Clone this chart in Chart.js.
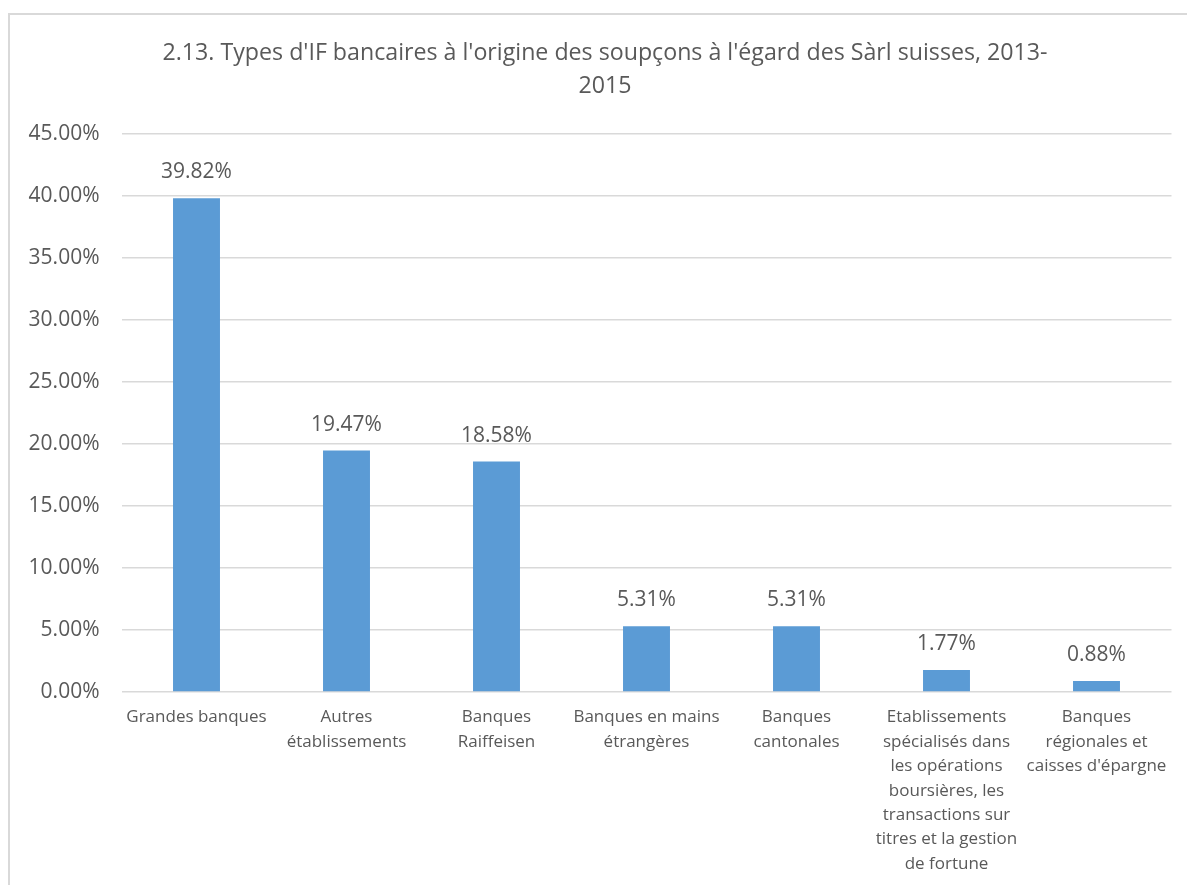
<!DOCTYPE html>
<html>
<head>
<meta charset="utf-8">
<script src="https://cdn.jsdelivr.net/npm/chart.js@4"></script>
<style>
  html, body { margin: 0; padding: 0; background: #fff; }
  #wrap { position: relative; width: 1187px; height: 885px; overflow: hidden; }
  #frame { position: absolute; left: 8px; top: 13px; right: -4px; bottom: -4px;
           border-left: 2px solid #d9d9d9; border-top: 2px solid #d9d9d9; }
  canvas { position: absolute; left: 0; top: 0; }
</style>
</head>
<body>
<div id="wrap">
  <div id="frame"></div>
  <canvas id="grafico" width="1210" height="885"></canvas>
</div>
<script>
// Données du graphique
const titleLines = ["2.13. Types d'IF bancaires à l'origine des soupçons à l'égard des Sàrl suisses, 2013-", "2015"];

const categories = [
    ['Grandes banques'],
    ['Autres', 'établissements'],
    ['Banques', 'Raiffeisen'],
    ['Banques en mains', 'étrangères'],
    ['Banques', 'cantonales'],
    ['Etablissements', 'spécialisés dans', 'les opérations', 'boursières, les', 'transactions sur', 'titres et la gestion', 'de fortune'],
    ['Banques', 'régionales et', "caisses d'épargne"]
];

const shares = [39.82, 19.47, 18.58, 5.31, 5.31, 1.77, 0.88];

const yMax = 45;
const yStep = 5;

const textColor = '#595959';
const gridColor = '#d9d9d9';
const barColor = '#5b9bd5';
const fontFamily = '"Open Sans", "DejaVu Sans", sans-serif';

const formatPct = (v) => v.toFixed(2) + '%';

// étiquettes de valeur au-dessus des barres
const valueLabels = {
    id: 'valueLabels',
    afterDatasetsDraw(chart) {
        const ctx = chart.ctx;
        const meta = chart.getDatasetMeta(0);
        ctx.save();
        ctx.font = '21px ' + fontFamily;
        ctx.fillStyle = textColor;
        ctx.textAlign = 'center';
        ctx.textBaseline = 'middle';
        meta.data.forEach((bar, i) => {
            ctx.fillText(formatPct(shares[i]), bar.x, bar.y - 26);
        });
        ctx.restore();
    }
};

const ctx = document.getElementById('grafico').getContext('2d');

new Chart(ctx, {
    type: 'bar',
    data: {
        labels: categories,
        datasets: [{
            data: shares,
            backgroundColor: barColor,
            borderWidth: 0,
            barPercentage: 0.313,
            categoryPercentage: 1.0
        }]
    },
    options: {
        responsive: false,
        animation: false,
        layout: {
            padding: { left: 0, right: 0, top: 0, bottom: 0 }
        },
        plugins: {
            legend: { display: false },
            tooltip: { enabled: false },
            title: {
                display: true,
                text: titleLines,
                color: textColor,
                font: { family: fontFamily, size: 23.2, weight: 'normal', lineHeight: 1.42 },
                padding: { top: 37, bottom: 31 }
            }
        },
        scales: {
            y: {
                min: 0,
                max: yMax,
                ticks: {
                    stepSize: yStep,
                    color: textColor,
                    padding: 22,
                    font: { family: fontFamily, size: 21 },
                    callback: (value) => formatPct(value)
                },
                grid: {
                    color: gridColor,
                    lineWidth: 1.5,
                    drawTicks: false
                },
                border: { display: false },
                afterFit: (scale) => { scale.width = 121.5; }
            },
            // axe vide à droite, pour garder la marge du cadre
            yRight: {
                position: 'right',
                min: 0,
                max: yMax,
                ticks: { display: false },
                grid: { display: false, drawTicks: false },
                border: { display: false },
                afterFit: (scale) => { scale.width = 38.5; }
            },
            x: {
                ticks: {
                    color: textColor,
                    padding: 13,
                    autoSkip: false,
                    maxRotation: 0,
                    font: { family: fontFamily, size: 17, lineHeight: 1.44 }
                },
                grid: { display: false, drawTicks: false },
                border: { display: false },
                afterFit: (scale) => { scale.height = 193; }
            }
        }
    },
    plugins: [valueLabels]
});
</script>
</body>
</html>
